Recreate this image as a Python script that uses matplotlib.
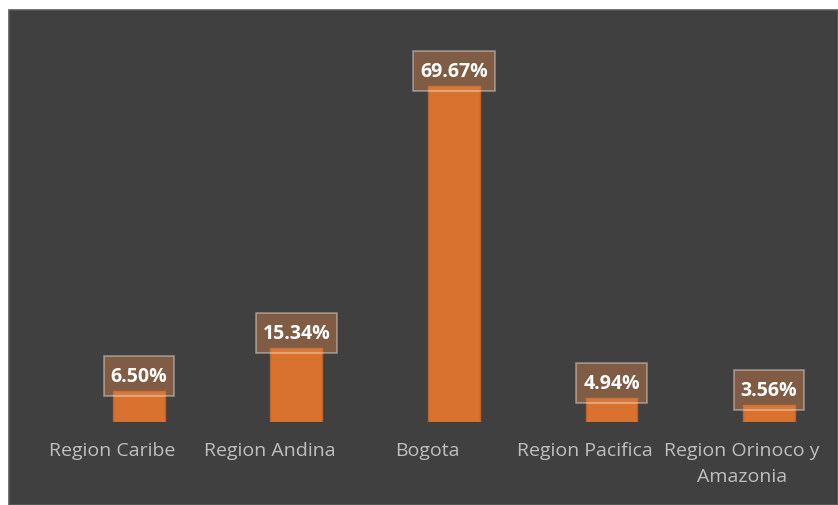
import matplotlib.pyplot as plt
import matplotlib.transforms as mtransforms
from matplotlib.patches import Rectangle

regions = ["Region Caribe", "Region Andina", "Bogota", "Region Pacifica",
           "Region Orinoco y\nAmazonia"]
shares = [6.50, 15.34, 69.67, 4.94, 3.56]
labels = ["6.50%", "15.34%", "69.67%", "4.94%", "3.56%"]

W, H = 838, 506
fig = plt.figure(figsize=(W / 100, H / 100), dpi=100)
fig.patch.set_facecolor("white")

# dark chart area with a thin lighter border (drawn behind the axes)
fig.patches.append(Rectangle((9 / W, 0), 1 - 9 / W, (H - 11) / H, transform=fig.transFigure,
                             facecolor="#404040", edgecolor="#5a5a5a", linewidth=1.2, zorder=-10))

ax = fig.add_axes([9 / W, 83 / H, 1 - 9 / W, 412 / H])
ax.set_facecolor("none")
ax.bar(range(len(shares)), shares, width=0.33, color="#d9722f", edgecolor="#c0622a",
       linewidth=1, zorder=2)

texts = []
for i, (v, lab) in enumerate(zip(shares, labels)):
    t = ax.annotate(lab, (i, v), xytext=(0, 15), textcoords="offset pixels",
                    ha="center", va="center", color="white", fontsize=14,
                    fontweight="bold", family="Open Sans", zorder=4)
    texts.append(t)

ax.set_xlim(-0.825, 4.438)
ax.set_ylim(0, 85.5)
ax.set_yticks([])
ax.set_xticks(range(len(regions)))
ax.set_xticklabels(regions, color="#bfbfbf", fontsize=14, family="Open Sans",
                   linespacing=1.55)
ax.tick_params(axis="x", length=0, pad=14)
# category labels sit a little left of the bars in the original
shift = mtransforms.ScaledTranslation(-27 / 100, 0, fig.dpi_scale_trans)
for lab in ax.get_xticklabels():
    lab.set_transform(lab.get_transform() + shift)
for s in ax.spines.values():
    s.set_visible(False)

# label boxes sized from the rendered text
fig.canvas.draw()
r = fig.canvas.get_renderer()
for t in texts:
    bb = t.get_window_extent(r)
    cx, cy = (bb.x0 + bb.x1) / 2, (bb.y0 + bb.y1) / 2
    w, h = bb.width + 14, 40
    box = Rectangle((cx - w / 2, cy - h / 2), w, h, transform=None,
                    facecolor=(0.85, 0.52, 0.3, 0.42), edgecolor=(1, 1, 1, 0.4),
                    linewidth=1.2, zorder=3, clip_on=False)
    ax.add_patch(box)

fig.savefig("out.png", dpi=100)
